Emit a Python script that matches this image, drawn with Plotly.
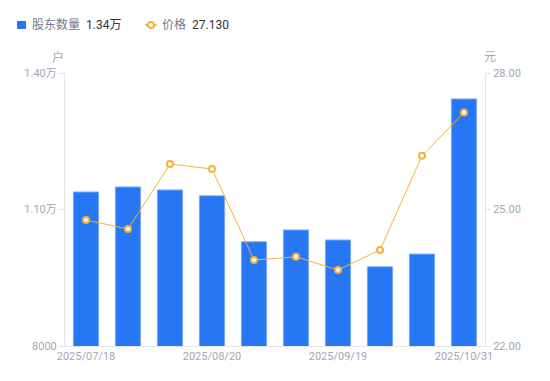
import plotly.graph_objects as go

dates = ["2025/07/18", "2025/07/31", "2025/08/10", "2025/08/20", "2025/08/29",
         "2025/09/10", "2025/09/19", "2025/09/30", "2025/10/20", "2025/10/31"]
holders = [11385, 11495, 11430, 11300, 10290, 10550, 10330, 9740, 10020, 13430]
prices = [24.77, 24.57, 26.00, 25.89, 23.89, 23.96, 23.67, 24.11, 26.18, 27.13]
x_ticks = ["2025/07/18", "2025/08/20", "2025/09/19", "2025/10/31"]
left_ticks = [8000, 11000, 14000]
left_labels = ["8000", "1.10万", "1.40万"]
right_ticks = [22, 25, 28]
right_labels = ["22.00", "25.00", "28.00"]
legend_names = ["股东数量", "价格"]
legend_values = ["1.34万", "27.130"]

FONT = "Roboto, 'Noto Sans CJK SC', sans-serif"
TICK = "#a3a6b4"
AXIS = "#e3e5ea"
BLUE = "#2777f4"
ORANGE = "#f6b13c"

ML, MR, MT, MB, W, H = 65, 65, 73, 35, 550, 381
PW, PH = W - ML - MR, H - MT - MB


def px(x):
    return (x - ML) / PW


def py(y):
    return (H - MB - y) / PH


fig = go.Figure()
fig.add_trace(go.Bar(
    x=dates, y=holders, name=legend_names[0],
    marker=dict(color=BLUE, line=dict(color="#7aaaf7", width=1)),
    width=0.6, yaxis="y"))
fig.add_trace(go.Scatter(
    x=dates, y=prices, name=legend_names[1],
    mode="lines+markers", yaxis="y2",
    line=dict(color=ORANGE, width=1),
    marker=dict(size=6, color="white", line=dict(color=ORANGE, width=2))))

shapes = [
    dict(type="rect", xref="paper", yref="paper", x0=px(17), x1=px(26),
         y0=py(29), y1=py(21), fillcolor=BLUE, line=dict(width=0)),
    dict(type="line", xref="paper", yref="paper", x0=px(145), x1=px(157),
         y0=py(25), y1=py(25), line=dict(color=ORANGE, width=1.5)),
    dict(type="circle", xref="paper", yref="paper", x0=px(148), x1=px(154),
         y0=py(28), y1=py(22), fillcolor="white", line=dict(color=ORANGE, width=2)),
]

def ann(text, x, y, color, size=12, xanchor="left"):
    return dict(text=text, xref="paper", yref="paper", x=px(x), y=py(y),
                xanchor=xanchor, yanchor="middle", showarrow=False,
                font=dict(size=size, color=color))

annotations = [
    ann(legend_names[0], 30, 25, "#75788a"),
    ann(legend_values[0], 84, 25, "#333333"),
    ann(legend_names[1], 160, 25, "#75788a"),
    ann(legend_values[1], 190, 25, "#333333"),
    ann("户", 58, 57, TICK, 12, "center"),
    ann("元", 490, 57, TICK, 12, "center"),
]

fig.update_layout(
    width=W, height=H,
    margin=dict(l=ML, r=MR, t=MT, b=MB),
    paper_bgcolor="white", plot_bgcolor="white",
    font=dict(family=FONT, size=11, color=TICK),
    showlegend=False,
    xaxis=dict(type="category", range=[-0.5, 9.5], tickvals=x_ticks,
               showgrid=False, showline=True, linecolor=AXIS, linewidth=1,
               ticks="", tickfont=dict(size=11, color=TICK), zeroline=False,
               automargin=False),
    yaxis=dict(range=[8000, 14000], tickvals=left_ticks, ticktext=left_labels,
               showgrid=False, showline=True, linecolor=AXIS, linewidth=1,
               ticks="outside", ticklen=5, tickcolor=AXIS,
               tickfont=dict(size=11, color=TICK), zeroline=False,
               automargin=False),
    yaxis2=dict(range=[22, 28], tickvals=right_ticks, ticktext=right_labels,
                overlaying="y", side="right",
                showgrid=False, showline=True, linecolor=AXIS, linewidth=1,
                ticks="outside", ticklen=5, tickcolor=AXIS,
                tickfont=dict(size=11, color=TICK), zeroline=False,
                automargin=False),
    shapes=shapes,
    annotations=annotations,
)

fig.write_html("out.html", config={"displayModeBar": False},
               post_script="document.body.style.margin='0';")
